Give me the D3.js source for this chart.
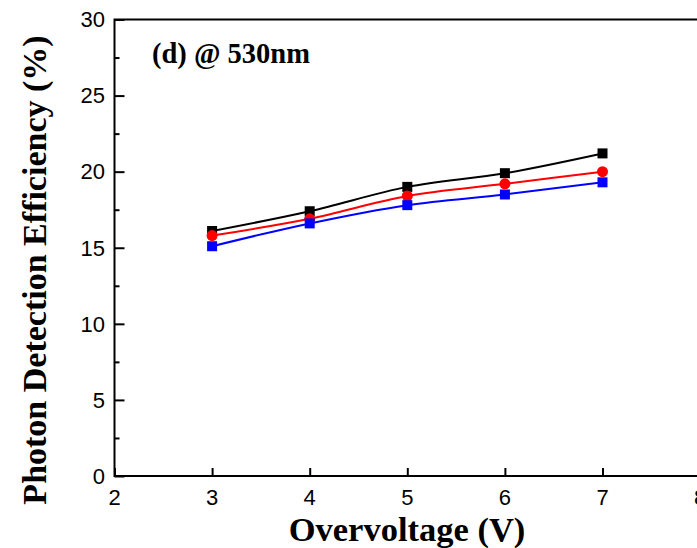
<!DOCTYPE html>
<meta charset="utf-8">
<script src="https://d3js.org/d3.v7.min.js"></script>
<style>
  body { margin: 0; background: #fff; }
  svg { display: block; }
</style>
<div id="chart"></div>
<script>
  // data
  var voltages = [3, 4, 5, 6, 7];
  var blackSeries = [16.1, 17.4, 19.0, 19.9, 21.2];
  var redSeries = [15.8, 16.9, 18.4, 19.2, 20.0];
  var blueSeries = [15.1, 16.6, 17.8, 18.5, 19.3];
  var xTicks = [2, 3, 4, 5, 6, 7, 8];
  var yTicks = [0, 5, 10, 15, 20, 25, 30];

  var W = 697, H = 548;
  var mLeft = 114.5, mTop = 19.5, mBottom = 476;

  var svg = d3.select("#chart").append("svg")
    .attr("width", W).attr("height", H);

  var x = d3.scaleLinear().domain([2, 8]).range([mLeft, mLeft + 6 * 97.6]);
  var y = d3.scaleLinear().domain([0, 30]).range([mBottom, mTop]);

  // frame
  svg.append("rect")
    .attr("x", x(2)).attr("y", y(30))
    .attr("width", x(8) - x(2)).attr("height", y(0) - y(30))
    .attr("fill", "none").attr("stroke", "#000").attr("stroke-width", 2);

  // y axis, ticks inside
  var yAxis = svg.append("g").attr("transform", "translate(" + mLeft + ",0)")
    .call(d3.axisRight(y).tickValues(yTicks).tickSize(10).tickFormat(""));
  yAxis.select(".domain").remove();
  yAxis.selectAll("line").attr("stroke-width", 2);
  svg.append("g").attr("transform", "translate(" + mLeft + ",0)")
    .call(d3.axisRight(y).tickValues([2.5, 7.5, 12.5, 17.5, 22.5, 27.5]).tickSize(5).tickFormat(""))
    .call(function(g) { g.select(".domain").remove(); g.selectAll("line").attr("stroke-width", 2); });

  svg.selectAll(".ylab").data(yTicks).enter().append("text")
    .attr("x", 105).attr("y", function(d) { return y(d) + 7.8; })
    .attr("text-anchor", "end")
    .style("font-family", "Liberation Sans, Arial, sans-serif").style("font-size", "22px")
    .text(function(d) { return d; });

  // x axis, ticks inside
  var xAxis = svg.append("g").attr("transform", "translate(0," + mBottom + ")")
    .call(d3.axisTop(x).tickValues(xTicks).tickSize(8).tickFormat(""));
  xAxis.select(".domain").remove();
  xAxis.selectAll("line").attr("stroke-width", 2);

  svg.selectAll(".xlab").data(xTicks).enter().append("text")
    .attr("x", function(d) { return x(d); }).attr("y", 505)
    .attr("text-anchor", "middle")
    .style("font-family", "Liberation Sans, Arial, sans-serif").style("font-size", "22px")
    .text(function(d) { return d; });

  // titles
  svg.append("text").attr("x", 407).attr("y", 541).attr("text-anchor", "middle")
    .style("font-family", "Liberation Serif, Times New Roman, serif").style("font-weight", "bold")
    .style("font-size", "34.5px").text("Overvoltage (V)");
  svg.append("text").attr("transform", "translate(46,270) rotate(-90)").attr("text-anchor", "middle")
    .style("font-family", "Liberation Serif, Times New Roman, serif").style("font-weight", "bold")
    .style("font-size", "34px").text("Photon Detection Efficiency (%)");
  svg.append("text").attr("x", 152).attr("y", 63)
    .style("font-family", "Liberation Serif, Times New Roman, serif").style("font-weight", "bold")
    .style("font-size", "28.5px").text("(d) @ 530nm");

  // series
  var series = [
    {vals: blackSeries, color: "#000000", shape: "square"},
    {vals: redSeries, color: "#ff0000", shape: "circle"},
    {vals: blueSeries, color: "#0000ff", shape: "square"}
  ];
  var line = d3.line().curve(d3.curveMonotoneX)
    .x(function(d, i) { return x(voltages[i]); })
    .y(function(d) { return y(d); });

  series.forEach(function(s) {
    svg.append("path").attr("d", line(s.vals))
      .attr("fill", "none").attr("stroke", s.color).attr("stroke-width", 2);
    if (s.shape == "square") {
      svg.selectAll(null).data(s.vals).enter().append("rect")
        .attr("x", function(d, i) { return x(voltages[i]) - 5; })
        .attr("y", function(d) { return y(d) - 5; })
        .attr("width", 10).attr("height", 10).attr("fill", s.color);
    } else {
      svg.selectAll(null).data(s.vals).enter().append("circle")
        .attr("cx", function(d, i) { return x(voltages[i]); })
        .attr("cy", function(d) { return y(d); })
        .attr("r", 5.5).attr("fill", s.color);
    }
  });
</script>
